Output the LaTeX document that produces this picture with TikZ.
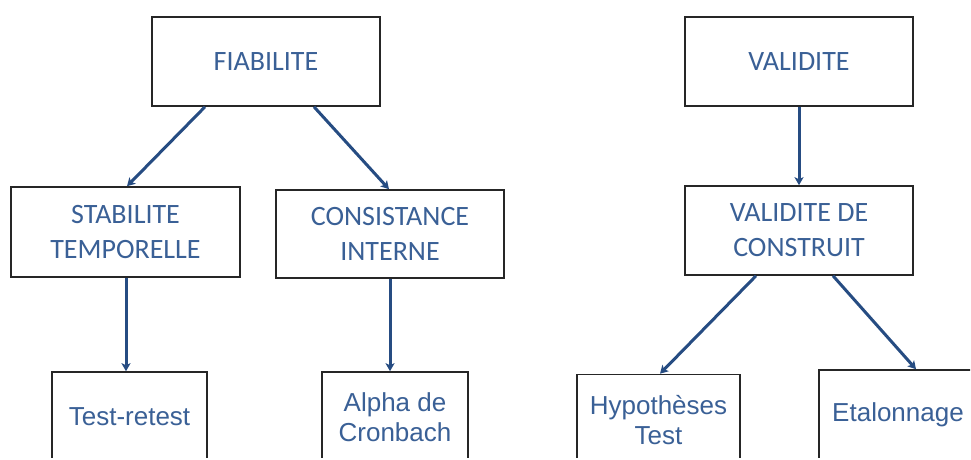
\documentclass[tikz,border=0pt]{standalone}
\usepackage{fontspec}
\usetikzlibrary{arrows.meta}

\newfontfamily\calibrifont{Carlito}
\newfontfamily\arialfont{Liberation Sans}

\definecolor{textblue}{RGB}{58,96,150}
\definecolor{arrowblue}{RGB}{38,76,130}

\tikzset{
	box/.style = {draw = black!85, line width = 1.6pt, fill = white, rectangle,
		align = center, text = textblue, inner sep = 0pt},
	topbox/.style = {box, font = \calibrifont\fontsize{28}{35}\selectfont},
	lowbox/.style = {box, font = \arialfont\fontsize{26}{30}\selectfont},
	link/.style = {arrowblue, line width = 3pt, -{Stealth[length = 8pt, width = 9pt, inset = 2pt]}}
}

\begin{document}
\begin{tikzpicture}[x = 1pt, y = -1pt]
	\useasboundingbox (0, 0) rectangle (971, 459);
	\fill[white] (0, 0) rectangle (971, 459);
	\clip (0, 0) rectangle (970, 457.5);

	% fiabilite
	\node[topbox, minimum width = 228pt, minimum height = 89pt] (fiabilite) at (266, 61.5) {FIABILITE};
	\node[topbox, minimum width = 229pt, minimum height = 90pt] (stabilite) at (125.5, 232) {STABILITE\\TEMPORELLE};
	\node[topbox, minimum width = 228pt, minimum height = 88pt] (consistance) at (390, 234) {CONSISTANCE\\INTERNE};
	\node[lowbox, minimum width = 155pt, minimum height = 90pt] (testretest) at (129.5, 417) {Test-retest};
	\node[lowbox, minimum width = 146pt, minimum height = 91pt] (alpha) at (395, 417.5) {Alpha de\\Cronbach};

	% validite
	\node[topbox, minimum width = 228pt, minimum height = 89pt] (validite) at (799, 61.5) {VALIDITE};
	\node[topbox, minimum width = 228pt, minimum height = 89pt] (construit) at (799, 230.5) {VALIDITE DE\\CONSTRUIT};
	\node[lowbox, minimum width = 163pt, minimum height = 91pt] (hypotheses) at (658.5, 420) {Hypothèses\\Test};
	\node[lowbox, minimum width = 158pt, minimum height = 90pt] (etalonnage) at (898, 415) {Etalonnage};

	\draw[link] ([xshift = -61pt] fiabilite.south) -- ([xshift = 1.5pt] stabilite.north);
	\draw[link] ([xshift = 48pt] fiabilite.south) -- ([xshift = -1pt] consistance.north);
	\draw[link] ([xshift = 0.5pt] stabilite.south) -- ([xshift = 0.5pt] stabilite.south |- testretest.north);
	\draw[link] (consistance.south) -- (consistance.south |- alpha.north);

	\draw[link] (validite.south) -- (construit.north);
	\draw[link] ([xshift = -43pt] construit.south) -- ([xshift = 1.5pt] hypotheses.north);
	\draw[link] ([xshift = 34pt] construit.south) -- ([xshift = 18pt] etalonnage.north);
\end{tikzpicture}
\end{document}
